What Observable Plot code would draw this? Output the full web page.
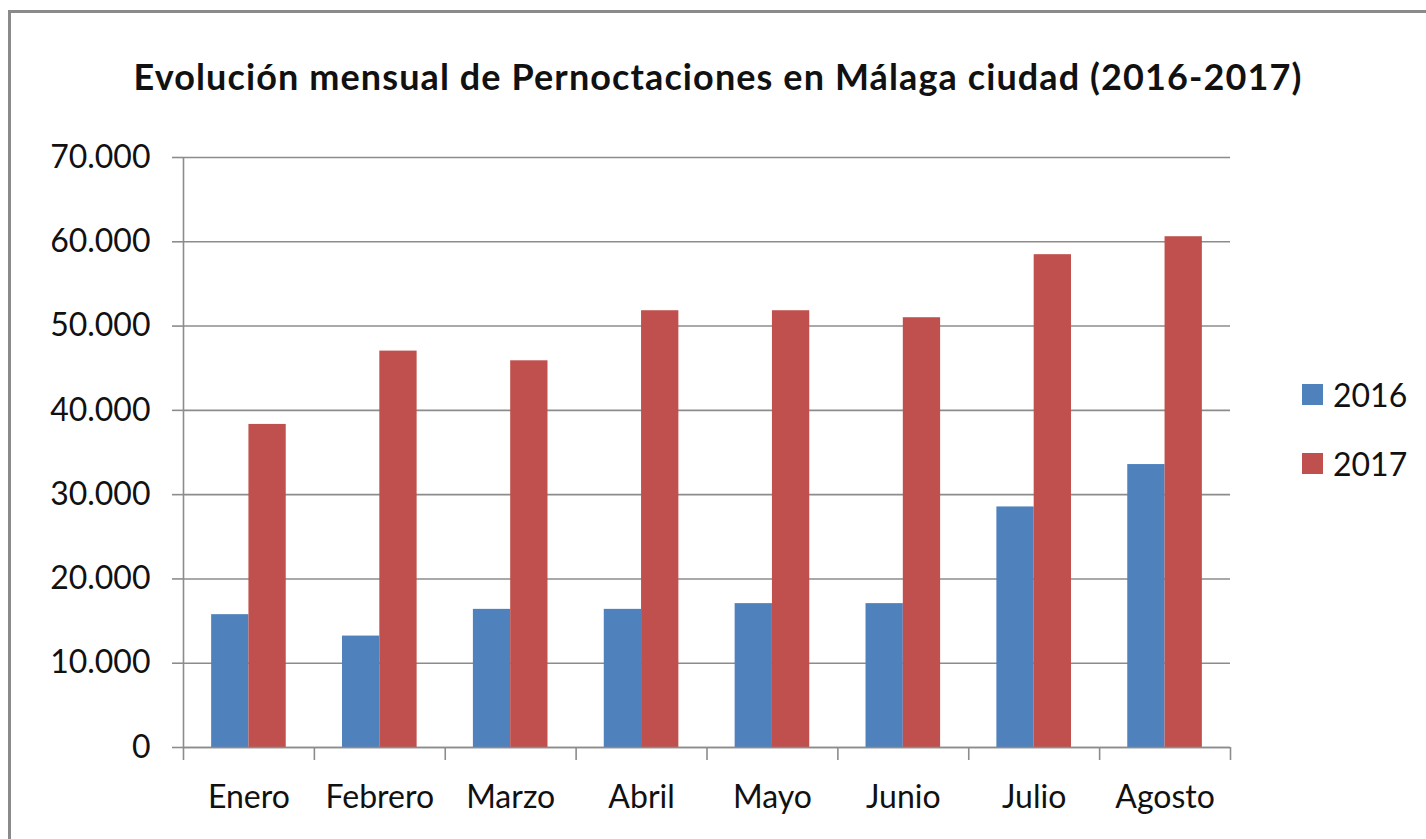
<!DOCTYPE html>
<html>
<head>
<meta charset="utf-8">
<script src="https://cdn.jsdelivr.net/npm/d3@7"></script>
<script src="https://cdn.jsdelivr.net/npm/@observablehq/plot@0.6"></script>
<style>
  html, body { margin: 0; padding: 0; background: #fff; }
  #wrap { position: relative; width: 1426px; height: 839px; overflow: hidden; font-family: Lato, "Open Sans", sans-serif; }
  #frame { position: absolute; left: 8px; top: 10px; width: 1500px; height: 900px; border-left: 3px solid #8a8a8a; border-top: 3px solid #8a8a8a; box-sizing: border-box; }
  #title { position: absolute; left: 10px; right: 0; top: 54px; text-align: center; font-weight: 700; font-size: 36px; color: #111; white-space: nowrap; letter-spacing: 1.1px; }
  #chart { position: absolute; left: 0; top: 120px; }
  #legend { position: absolute; left: 1302px; top: 372px; font-size: 32px; color: #111; }
  .item { display: flex; align-items: center; height: 44px; margin-bottom: 25px; }
  .sw { width: 21px; height: 21px; margin-right: 10px; }
</style>
</head>
<body>
<div id="wrap">
  <div id="frame"></div>
  <div id="title">Evolución mensual de Pernoctaciones en Málaga ciudad (2016-2017)</div>
  <div id="chart"></div>
  <div id="legend"></div>
</div>
<script>
const months = ["Enero", "Febrero", "Marzo", "Abril", "Mayo", "Junio", "Julio", "Agosto"];
const years = ["2016", "2017"];
const values2016 = [15760, 13220, 16390, 16390, 17070, 17070, 28540, 33570];
const values2017 = [38330, 47030, 45880, 51820, 51820, 50990, 58470, 60600];
const colors = ["#4F81BD", "#C0504D"];
const yTicks = [0, 10000, 20000, 30000, 40000, 50000, 60000, 70000];

const gap = 0.215, bw = (1 - 2 * gap) / 2;
const series = [values2016, values2017];
const rows = [];
months.forEach((m, i) => {
  series.forEach((vals, k) => {
    rows.push({month: m, year: years[k], value: vals[i], x1: i + gap + k * bw, x2: i + gap + (k + 1) * bw});
  });
});

const loc = d3.formatLocale({decimal: ",", thousands: ".", grouping: [3], currency: ["", " €"]});
const fmt = loc.format(",d");
const grid = "#8c8c8c";

const chart = Plot.plot({
  width: 1426,
  height: 719,
  marginTop: 37,
  marginBottom: 92,
  marginLeft: 183,
  marginRight: 196,
  style: {fontFamily: "Lato, 'Open Sans', sans-serif", fontSize: "32px", color: "#111", background: "transparent", overflow: "visible"},
  x: {type: "linear", domain: [0, months.length]},
  y: {domain: [0, 70000]},
  color: {domain: years, range: colors},
  marks: [
    Plot.gridY(yTicks, {stroke: grid, strokeOpacity: 1, strokeWidth: 1.6}),
    Plot.rectY(rows, {x1: "x1", x2: "x2", y: "value", fill: "year"}),
    Plot.ruleX([0], {stroke: grid, strokeWidth: 1.6}),
    Plot.ruleY([0], {stroke: grid, strokeWidth: 1.6}),
    Plot.axisY({ticks: yTicks, tickSize: 11, tickPadding: 22, tickFormat: fmt, stroke: grid, strokeWidth: 1.6, strokeOpacity: 1, label: null, fontSize: 32}),
    Plot.axisX({ticks: d3.range(0, months.length + 1), tickSize: 13, tickFormat: () => "", stroke: grid, strokeWidth: 1.6, strokeOpacity: 1, label: null}),
    Plot.axisX({ticks: months.map((m, i) => i + 0.5), tickSize: 0, tickPadding: 38, tickFormat: d => months[Math.floor(d)], label: null, fontSize: 32})
  ]
});
document.getElementById("chart").appendChild(chart);

const legend = document.getElementById("legend");
years.forEach((y, k) => {
  const item = document.createElement("div");
  item.className = "item";
  item.innerHTML = `<span class="sw" style="background:${colors[k]}"></span><span>${y}</span>`;
  legend.appendChild(item);
});
</script>
</body>
</html>
